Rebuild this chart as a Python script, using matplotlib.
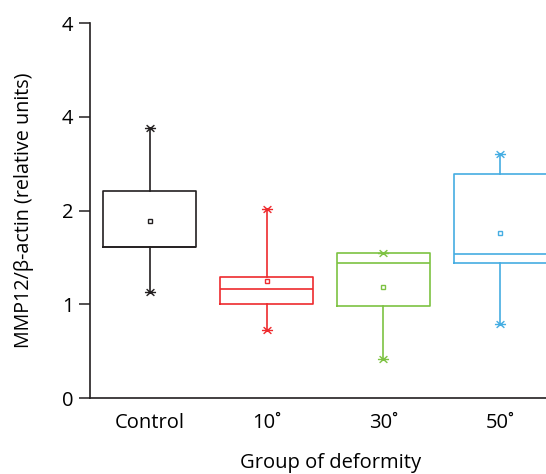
import matplotlib
matplotlib.use("Agg")
import matplotlib.pyplot as plt
from matplotlib.path import Path

plt.rcParams['font.family'] = ['Open Sans', 'DejaVu Sans']

categories = ["Control", "10˚", "30˚", "50˚"]
whislo = [1.13, 0.725, 0.413, 0.789]
q1 = [1.61, 1.003, 0.981, 1.437]
med = [1.61, 1.163, 1.437, 1.543]
q3 = [2.21, 1.29, 1.547, 2.396]
whishi = [2.88, 2.016, 1.547, 2.61]
means = [1.89, 1.248, 1.187, 1.763]
colors = ["#231f20", "#ee2a2e", "#7dc242", "#45ade2"]
ytick_labels = ["0", "1", "2", "4", "4"]

cap_marker = Path([(-1, 0), (1, 0), (-0.7, -0.6), (0.7, 0.6), (-0.7, 0.6), (0.7, -0.6)],
                  [Path.MOVETO, Path.LINETO, Path.MOVETO, Path.LINETO, Path.MOVETO, Path.LINETO])

fig = plt.figure(figsize=(5.46, 4.74), dpi=100)
ax = fig.add_axes([0.165, 0.160, 0.835, 0.791])

positions = list(range(len(categories)))
for i, c in enumerate(colors):
    st = dict(whislo=whislo[i], q1=q1[i], med=med[i], q3=q3[i], whishi=whishi[i],
              mean=means[i], fliers=[])
    ax.bxp([st], positions=[positions[i]], widths=0.795, showcaps=False, showfliers=False,
           showmeans=True,
           boxprops=dict(color=c, linewidth=1.2),
           whiskerprops=dict(color=c, linewidth=1.2),
           medianprops=dict(color=c, linewidth=1.2),
           meanprops=dict(marker='s', markersize=3.5, markerfacecolor='white',
                          markeredgecolor=c, markeredgewidth=1.0))
    ax.plot([positions[i], positions[i]], [whislo[i], whishi[i]], linestyle='none',
            marker=cap_marker, markersize=8, color=c, markeredgewidth=1.0)

ax.set_xlim(-0.509, 3.39)
ax.set_ylim(0, 4)
ax.set_yticks(range(5))
ax.set_yticklabels(ytick_labels)
ax.set_xticks(positions)
ax.set_xticklabels(categories)
ax.tick_params(axis='x', length=0, pad=11, labelsize=14.5)
ax.tick_params(axis='y', length=8, width=1.1, labelsize=14.5, color='#231f20', pad=4)
for s in ['top', 'right']:
    ax.spines[s].set_visible(False)
for s in ['left', 'bottom']:
    ax.spines[s].set_linewidth(1.2)
    ax.spines[s].set_color('#231f20')

ax.set_ylabel("MMP12/β-actin (relative units)", fontsize=14.2, labelpad=20)
ax.set_xlabel("Group of deformity", fontsize=14.5, labelpad=14)
ax.xaxis.set_label_coords(0.528, -0.147)

fig.savefig("out.png", dpi=100)
